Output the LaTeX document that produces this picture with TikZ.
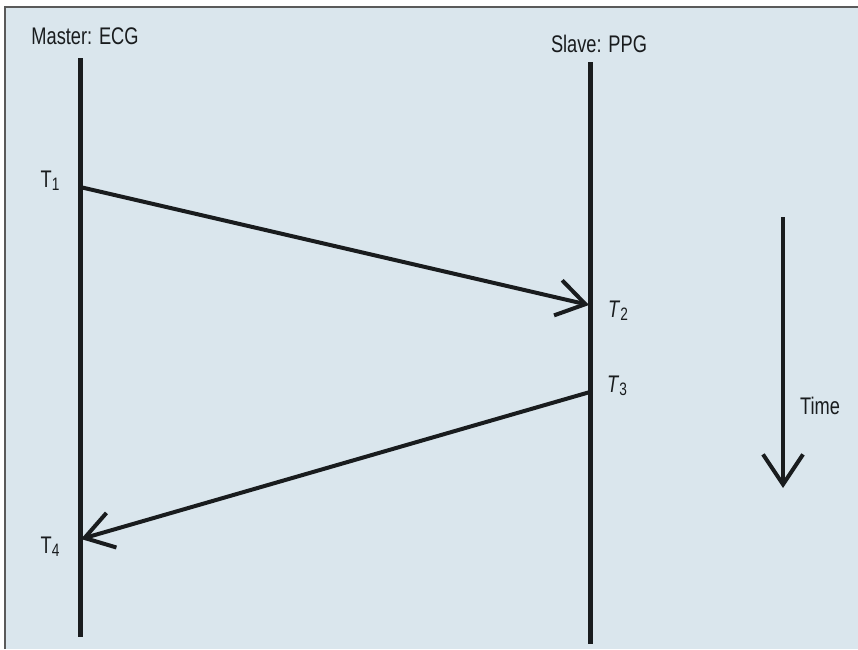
\documentclass[tikz,border=0pt]{standalone}
\usepackage{fontspec}
\setmainfont{Liberation Sans}[FakeStretch=0.76]
\usepackage{xcolor}
\usepackage{tikz}
\usetikzlibrary{arrows.meta, positioning, calc}
\definecolor{panelblue}{RGB}{218,230,237}
\definecolor{framegray}{RGB}{90,90,90}
\definecolor{inkblack}{RGB}{25,28,30}
\newcommand{\tsub}[1]{\raisebox{-0.25ex}{\fontsize{9}{10}\selectfont #1}}

\begin{document}
\begin{tikzpicture}[
        x=0.5pt, y=-0.5pt,
        % Styles
        lifeline/.style={line width=2.5pt, inkblack},
        message/.style={-{Straight Barb[length=14pt, width=18pt, line width=2pt]}, line width=2pt, inkblack},
        timearrow/.style={-{Straight Barb[length=15pt, width=20pt, line width=2pt]}, line width=2pt, inkblack},
        label/.style={font=\fontsize{12}{14}\selectfont, text=inkblack, inner sep=0pt},
    ]

    \useasboundingbox (0,0) rectangle (858,649);

    % Panel
    \fill[panelblue] (5,7) rectangle (858,649);
    \draw[framegray, line width=0.8pt] (5,649) -- (5,7) -- (858,7);

    % Lifelines
    \coordinate (mtop) at (80,58);
    \coordinate (mbot) at (80,637);
    \coordinate (stop) at (590,62);
    \coordinate (sbot) at (590,644);
    \draw[lifeline] (mtop) -- (mbot);
    \draw[lifeline] (stop) -- (sbot);

    \node[label] (master) at (85,36) {Master: ECG};
    \node[label] (slave) at (599,44) {Slave: PPG};

    % Message points
    \coordinate (t1) at (80,187);
    \coordinate (t2) at (589,305);
    \coordinate (t3) at (590,392);
    \coordinate (t4) at (81,539);

    \draw[message] (t1) -- (t2);
    \draw[message] (t3) -- (t4);

    \node[label] (lt1) at (50,181) {T\tsub{1}};
    \node[label] (lt2) at (618,311) {\textit{T}\tsub{2}};
    \node[label] (lt3) at (617,386) {\textit{T}\tsub{3}};
    \node[label] (lt4) at (50,547) {T\tsub{4}};

    % Time axis
    \coordinate (ttop) at (783,217);
    \coordinate (tbot) at (783,488);
    \draw[timearrow] (ttop) -- (tbot);
    \node[label] (time) at (820,406) {Time};

\end{tikzpicture}
\end{document}
